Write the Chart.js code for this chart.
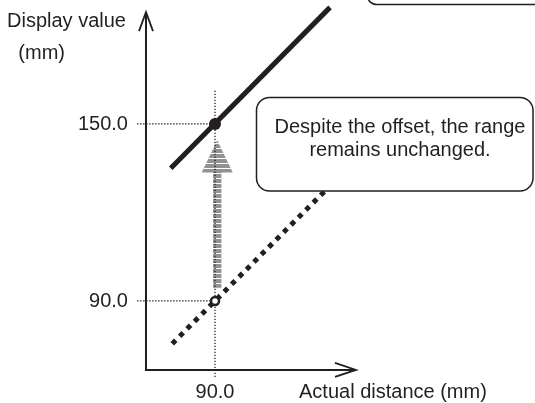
<!DOCTYPE html>
<html>
<head>
<meta charset="utf-8">
<script src="https://cdn.jsdelivr.net/npm/chart.js@4.4.1/dist/chart.umd.min.js"></script>
<style>
  html, body { margin: 0; padding: 0; background: #fff; }
  canvas { display: block; }
</style>
</head>
<body>
<canvas id="chart" width="535" height="403"></canvas>
<script>
const INK = "#231f20";
const GREY = "#929292";
const FONT = '20px "Liberation Sans", Arial, sans-serif';

// ---- data (mm) ----
const actualOffset = [75, 129];        // solid line, with offset
const displayOffset = [135, 189.5];
const actualNoOffset = [75.5, 130];    // dotted line, no offset
const displayNoOffset = [75.5, 130];
const markActual = [90];
const markOffset = [150];
const markNoOffset = [90];

const xTicks = [90];
const xTickLabels = ["90.0"];
const yTicks = [150, 90];
const yTickLabels = ["150.0", "90.0"];

const xTitle = "Actual distance (mm)";
const yTitle = ["Display value", "(mm)"];
const noteLines = ["Despite the offset, the range", "remains unchanged."];

// axis extent and guides, in mm
const axisOrigin = 66.6;
const xAxisEnd = 137.8;
const yAxisEnd = 187.9;
const guideLeft = 63.6;
const guideLow = 64.2;
const guideHigh = 161.2;
// grey "shift" arrow
const shiftX = 90.75;
const shiftFrom = 94.5;
const shiftBase = 133.5;
const shiftTip = 144.5;

function pts(xs, ys) {
  return xs.map((v, i) => ({ x: v, y: ys[i] }));
}

function dotted(ctx, x1, y1, x2, y2) {
  ctx.save();
  ctx.strokeStyle = INK;
  ctx.lineWidth = 1.3;
  ctx.setLineDash([1.4, 1.6]);
  ctx.beginPath();
  ctx.moveTo(x1, y1);
  ctx.lineTo(x2, y2);
  ctx.stroke();
  ctx.restore();
}

const drawing = {
  id: "drawing",
  beforeDatasetsDraw(chart) {
    const { ctx, scales: { x, y } } = chart;
    const ox = x.getPixelForValue(axisOrigin);
    const oy = y.getPixelForValue(axisOrigin);
    const xe = x.getPixelForValue(xAxisEnd);
    const ye = y.getPixelForValue(yAxisEnd);

    // axes with open arrowheads
    ctx.save();
    ctx.strokeStyle = INK;
    ctx.lineWidth = 2;
    ctx.beginPath();
    ctx.moveTo(ox, ye);
    ctx.lineTo(ox, oy);
    ctx.lineTo(xe, oy);
    ctx.stroke();
    ctx.lineWidth = 1.8;
    ctx.beginPath();
    ctx.moveTo(ox - 7, ye + 19);
    ctx.lineTo(ox, ye);
    ctx.lineTo(ox + 7, ye + 19);
    ctx.moveTo(xe - 21, oy - 7);
    ctx.lineTo(xe, oy);
    ctx.lineTo(xe - 21, oy + 7);
    ctx.stroke();
    ctx.restore();

    // grey striped arrow
    const cx = x.getPixelForValue(shiftX);
    const yb = y.getPixelForValue(shiftFrom);
    const yh = y.getPixelForValue(shiftBase);
    const yt = y.getPixelForValue(shiftTip);
    ctx.save();
    ctx.beginPath();
    ctx.moveTo(cx - 4.2, yb);
    ctx.lineTo(cx - 4.2, yh);
    ctx.lineTo(cx - 15.5, yh);
    ctx.lineTo(cx, yt);
    ctx.lineTo(cx + 15.5, yh);
    ctx.lineTo(cx + 4.2, yh);
    ctx.lineTo(cx + 4.2, yb);
    ctx.closePath();
    ctx.clip();
    ctx.fillStyle = GREY;
    ctx.fillRect(cx - 20, yt - 2, 40, yb - yt + 4);
    ctx.fillStyle = "#fff";
    for (let r = Math.round(yb) - 5; r > yt; r -= 5) {
      ctx.fillRect(cx - 20, r, 40, 1);
    }
    ctx.restore();

    // dotted guides
    const gx = x.getPixelForValue(xTicks[0]);
    dotted(ctx, gx, y.getPixelForValue(guideLow), gx, y.getPixelForValue(guideHigh));
    yTicks.forEach(t => {
      const py = y.getPixelForValue(t);
      dotted(ctx, x.getPixelForValue(guideLeft), py, gx, py);
    });
  },
  afterDatasetsDraw(chart) {
    const { ctx, scales: { x, y } } = chart;
    const ox = x.getPixelForValue(axisOrigin);
    const oy = y.getPixelForValue(axisOrigin);

    // callout boxes
    ctx.save();
    ctx.fillStyle = "#fff";
    ctx.strokeStyle = INK;
    ctx.lineWidth = 1.5;
    ctx.beginPath();
    ctx.roundRect(367.5, -40, 200, 44.5, 9);
    ctx.fill();
    ctx.stroke();
    ctx.beginPath();
    ctx.roundRect(256.5, 97.5, 276.5, 93.5, 13);
    ctx.fill();
    ctx.stroke();
    ctx.restore();

    ctx.save();
    ctx.fillStyle = INK;
    ctx.font = FONT;
    ctx.textAlign = "center";
    ctx.textBaseline = "alphabetic";
    ctx.fillText(noteLines[0], 400, 133);
    ctx.fillText(noteLines[1], 400, 156);

    // y tick labels
    ctx.textAlign = "right";
    ctx.textBaseline = "middle";
    yTicks.forEach((t, i) => {
      ctx.fillText(yTickLabels[i], ox - 18, y.getPixelForValue(t) + 1);
    });
    // x tick labels
    ctx.textAlign = "center";
    xTicks.forEach((t, i) => {
      ctx.fillText(xTickLabels[i], x.getPixelForValue(t), oy + 23);
    });
    // titles
    ctx.textAlign = "left";
    ctx.fillText(xTitle, 299, oy + 23);
    ctx.textAlign = "right";
    ctx.textBaseline = "alphabetic";
    ctx.fillText(yTitle[0], ox - 20, 27);
    ctx.fillText(yTitle[1], ox - 81, 59);
    ctx.restore();
  }
};

const ctx = document.getElementById("chart").getContext("2d");

const chart = new Chart(ctx, {
  type: "scatter",
  data: {
    datasets: [
      {
        data: pts(markActual, markOffset),
        pointRadius: 6,
        pointBackgroundColor: INK,
        pointBorderColor: INK,
        pointBorderWidth: 0,
        order: 0
      },
      {
        data: pts(markActual, markNoOffset),
        pointRadius: 4,
        pointBackgroundColor: "#fff",
        pointBorderColor: INK,
        pointBorderWidth: 2.5,
        order: 0
      },
      {
        data: pts(actualOffset, displayOffset),
        showLine: true,
        borderColor: INK,
        borderWidth: 5,
        borderCapStyle: "butt",
        pointRadius: 0,
        order: 1
      },
      {
        data: pts(actualNoOffset, displayNoOffset),
        showLine: true,
        borderColor: INK,
        borderWidth: 5,
        borderDash: [5, 5.5],
        borderCapStyle: "butt",
        pointRadius: 0,
        order: 2
      }
    ]
  },
  options: {
    responsive: false,
    animation: false,
    devicePixelRatio: 1,
    layout: { padding: 0, autoPadding: false },
    plugins: { legend: { display: false }, tooltip: { enabled: false } },
    scales: {
      x: { type: "linear", display: false, min: 17.1, max: 198.5 },
      y: { type: "linear", display: false, min: 55.4, max: 192.0 }
    }
  },
  plugins: [drawing]
});
</script>
</body>
</html>
